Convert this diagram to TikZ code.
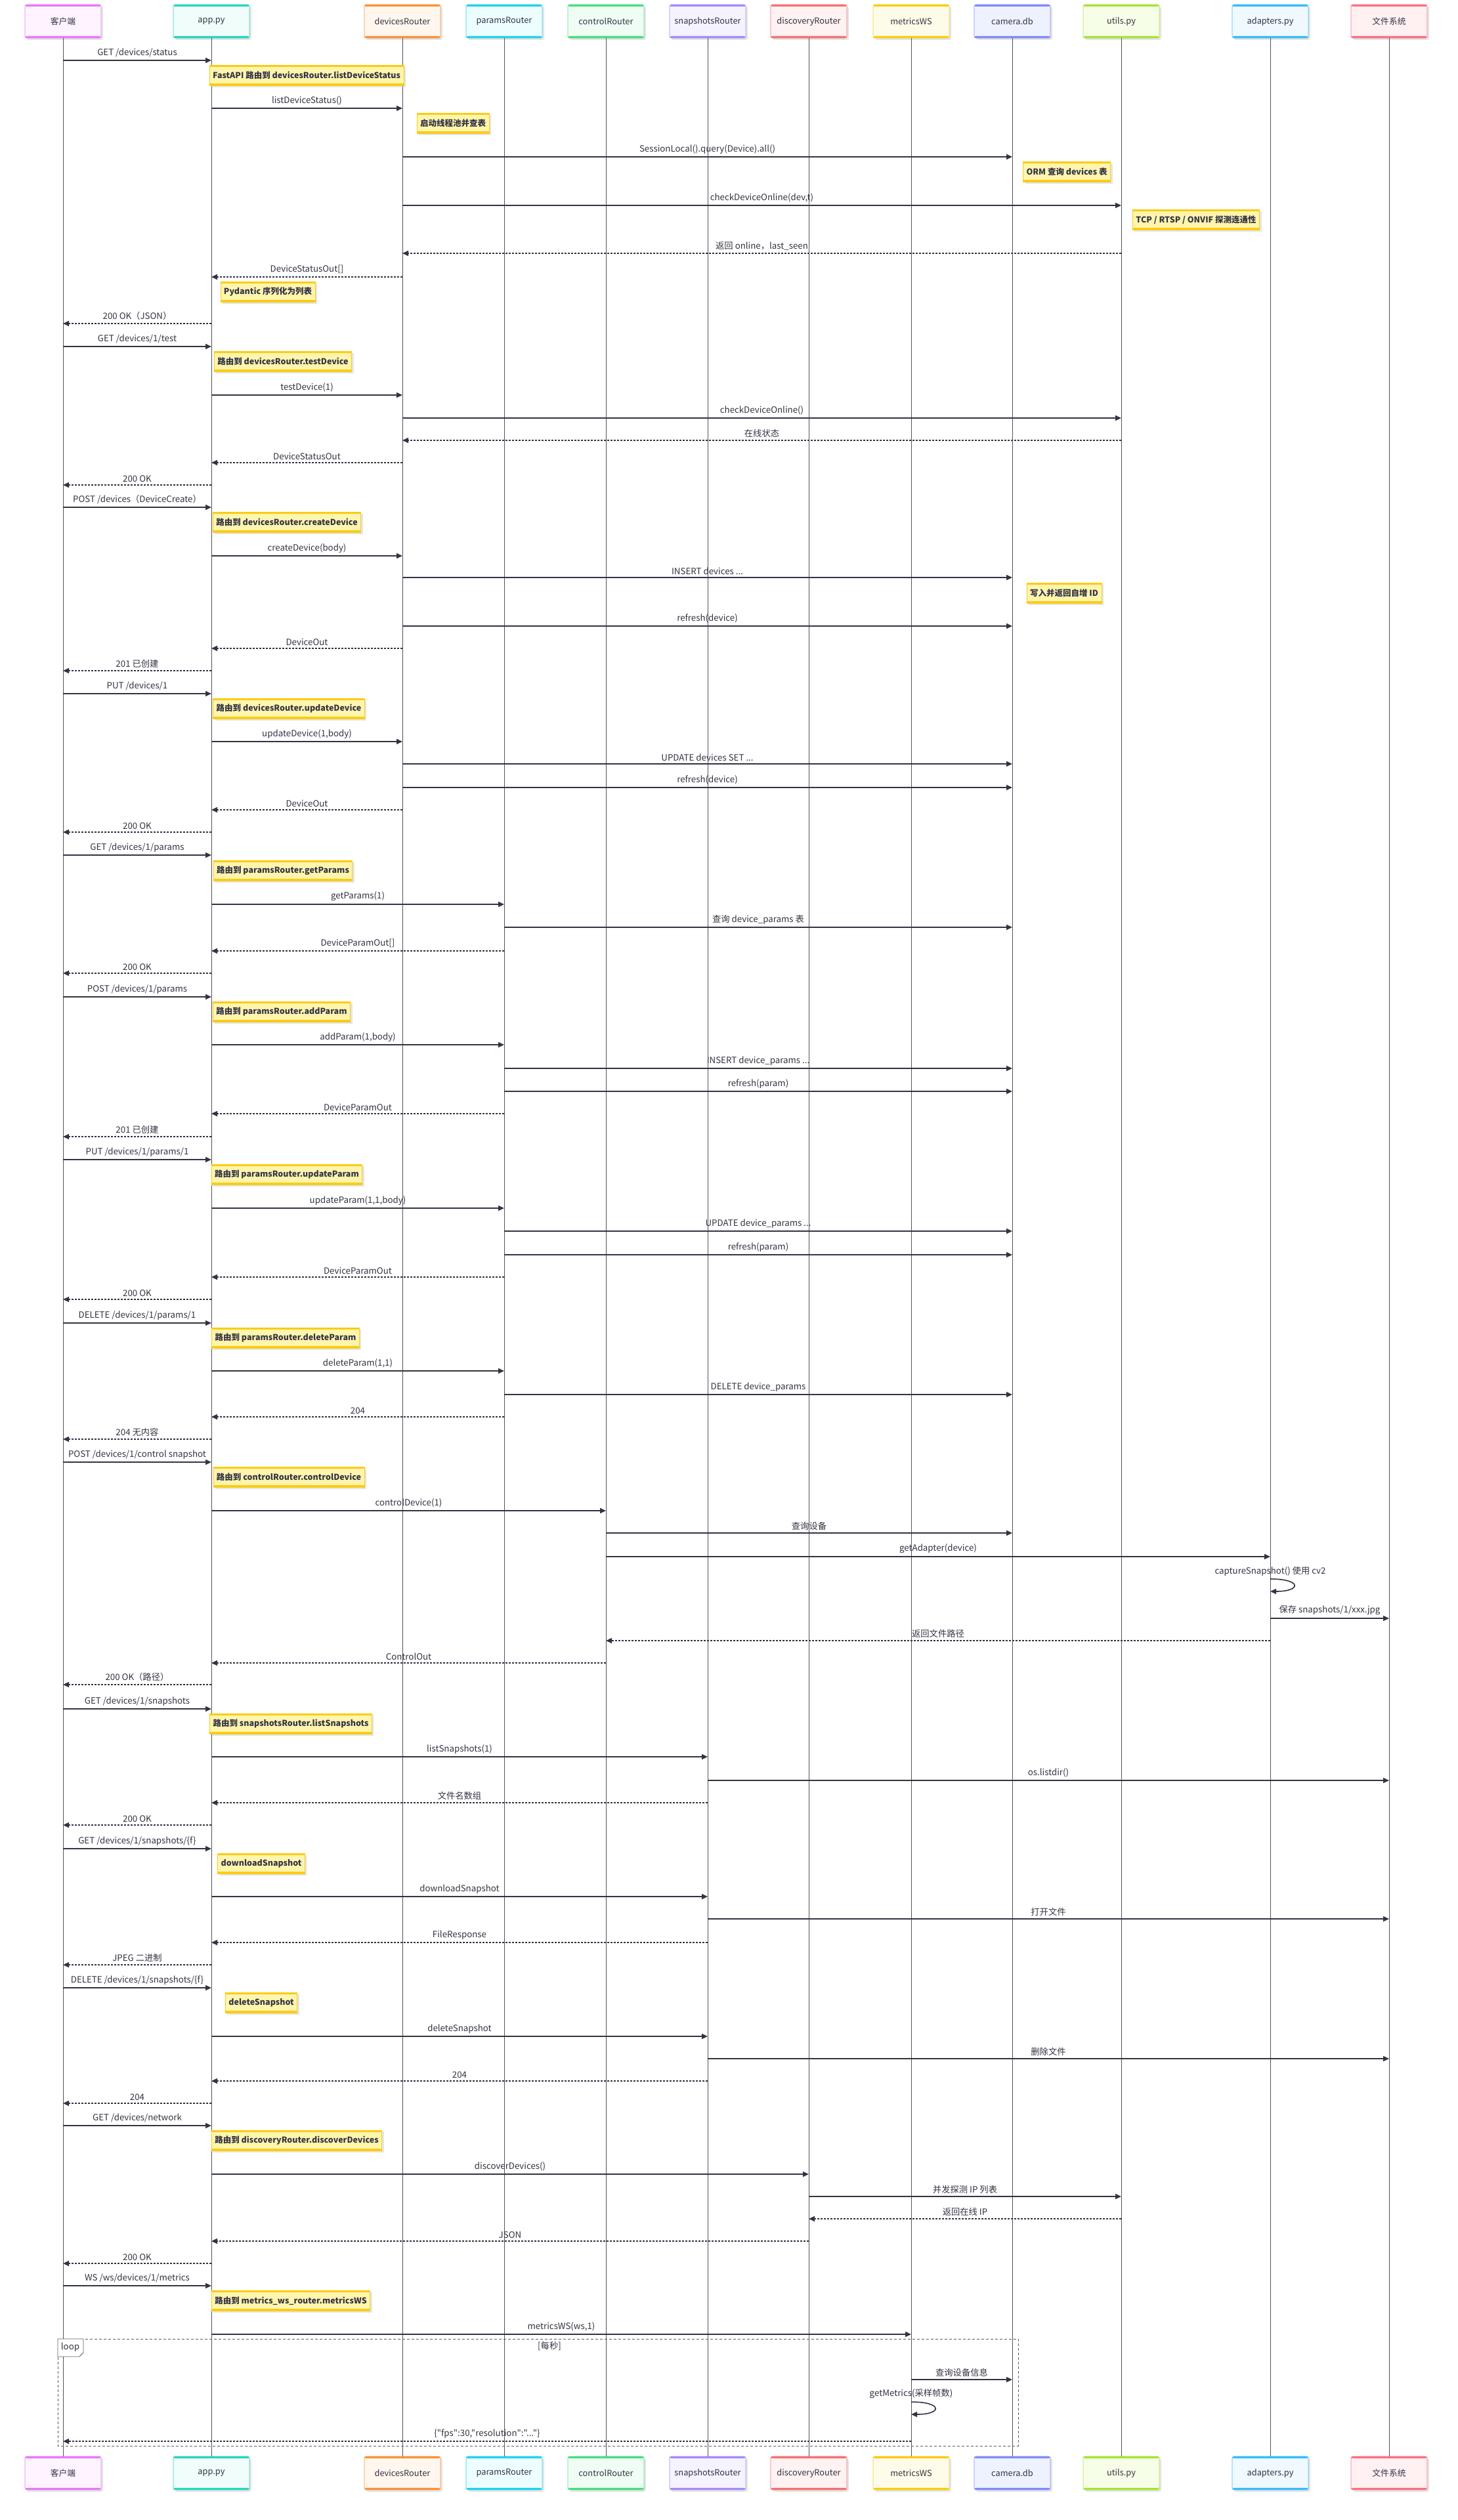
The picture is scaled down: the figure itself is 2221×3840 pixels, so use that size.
\documentclass[tikz,border=0pt]{standalone}
\usepackage{fontspec}
\setmainfont{Noto Sans CJK SC}[Ligatures=TeXOff]
\usetikzlibrary{arrows.meta, positioning, shadows}

\definecolor{ink}{HTML}{333344}
\definecolor{notefill}{HTML}{FFF5AD}
\definecolor{noteline}{HTML}{FACC15}
\definecolor{actline}{HTML}{999999}
\definecolor{actfill}{HTML}{FFFFFF}

\newcommand{\seqfont}{\fontsize{13.3}{16}\selectfont}
\newcommand{\notefont}{\fontsize{12.5}{15}\selectfont}

\tikzset{
  actor/.style={draw=actline, fill=actfill, rounded corners=3pt, line width=0.8pt,
    minimum width=116pt, minimum height=51pt, text=ink, font=\fontsize{12.8}{15}\selectfont,
    drop shadow={shadow xshift=3pt, shadow yshift=-3pt, fill=black!25, opacity=0.4},
    path picture={
      \fill[actline] (path picture bounding box.north west) rectangle ([yshift=-3pt]path picture bounding box.north east);
      \fill[actline] (path picture bounding box.south west) rectangle ([yshift=3pt]path picture bounding box.south east);}},
  life/.style={draw=ink!85, line width=0.9pt},
  msg/.style={draw=ink, line width=1.6pt, -{Triangle[length=9pt, width=8pt]}},
  ret/.style={msg, dash pattern=on 3pt off 2pt},
  lbl/.style={above=3pt, inner sep=1pt, text=ink, font=\seqfont},
  slbl/.style={inner sep=1pt, text=ink, font=\seqfont},
  note/.style={anchor=north, fill=notefill, draw=noteline, line width=0.8pt,
    minimum height=31pt, inner xsep=5pt, text=ink, font=\bfseries\notefont,
    drop shadow={shadow xshift=3pt, shadow yshift=-3pt, fill=black!25, opacity=0.4},
    path picture={
      \fill[noteline] (path picture bounding box.north west) rectangle ([yshift=-3pt]path picture bounding box.north east);
      \fill[noteline] (path picture bounding box.south west) rectangle ([yshift=3pt]path picture bounding box.south east);}},
  frame/.style={draw=ink!80, line width=1pt, dash pattern=on 4pt off 3pt},
}

\begin{document}
\begin{tikzpicture}[x=1pt, y=-1pt]
    \path[use as bounding box, fill=white] (0,0) rectangle (2221,3840);

    % participants, top and bottom, with lifelines
    \foreach \n/\x/\t/\bd/\bg in {cli/96/客户端/E879F9/FDF4FF, app/322/app.py/2DD4BF/F0FDFA,
        dev/613/devicesRouter/FB923C/FFF7ED, par/768/paramsRouter/22D3EE/ECFEFF,
        ctl/923/controlRouter/4ADE80/F0FDF4, snap/1078/snapshotsRouter/A78BFA/F5F3FF,
        disc/1232/discoveryRouter/F87171/FEF2F2, mws/1388/metricsWS/FACC15/FEFCE8,
        db/1542/camera.db/818CF8/EEF2FF, utl/1708/utils.py/A3E635/F7FEE7,
        adp/1935/adapters.py/38BDF8/F0F9FF, fs/2116/文件系统/FB7185/FFF1F2}{
        \definecolor{actline}{HTML}{\bd}
        \definecolor{actfill}{HTML}{\bg}
        \node[actor] (\n) at (\x,32.5) {\t};
        \node[actor] (\n-b) at (\x,3768.5) {\t};
        \draw[life] (\n.south) -- (\n-b.north);
    }

    % loop frame
    \draw[frame] (88,3564) rectangle (1551,3727);
    \draw[ink!80, fill=white, line width=0.8pt] (88,3564) -- (127,3564) -- (127,3585) -- (121,3591) -- (88,3591) -- cycle;
    \node[slbl] (looptag) at (107,3577) {loop};
    \node[slbl] (loopcond) at (837,3575) {[每秒]};

    % GET /devices/status
    \draw[msg] (cli |- 0,92) -- node[lbl]{GET /devices/status} (app |- 0,92);
    \node[note] (n1) at (467,99) {FastAPI 路由到 devicesRouter.listDeviceStatus};
    \draw[msg] (app |- 0,165) -- node[lbl]{listDeviceStatus()} (dev |- 0,165);
    \node[note] (n2) at (690,172) {启动线程池并查表};
    \draw[msg] (dev |- 0,239) -- node[lbl]{SessionLocal().query(Device).all()} (db |- 0,239);
    \node[note] (n3) at (1625,246) {ORM 查询 devices 表};
    \draw[msg] (dev |- 0,313) -- node[lbl]{checkDeviceOnline(dev,t)} (utl |- 0,313);
    \node[note] (n4) at (1822,319) {TCP / RTSP / ONVIF 探测连通性};
    \draw[ret] (utl |- 0,386) -- node[lbl]{返回 online，last\_seen} (dev |- 0,386);
    \draw[ret] (dev |- 0,422) -- node[lbl]{DeviceStatusOut[]} (app |- 0,422);
    \node[note] (n5) at (408,429) {Pydantic 序列化为列表};
    \draw[ret] (app |- 0,493) -- node[lbl]{200 OK（JSON）} (cli |- 0,493);

    % GET /devices/1/test
    \draw[msg] (cli |- 0,528) -- node[lbl]{GET /devices/1/test} (app |- 0,528);
    \node[note] (n6) at (431,535) {路由到 devicesRouter.testDevice};
    \draw[msg] (app |- 0,602) -- node[lbl]{testDevice(1)} (dev |- 0,602);
    \draw[msg] (dev |- 0,637) -- node[lbl]{checkDeviceOnline()} (utl |- 0,637);
    \draw[ret] (utl |- 0,671) -- node[lbl]{在线状态} (dev |- 0,671);
    \draw[ret] (dev |- 0,705) -- node[lbl]{DeviceStatusOut} (app |- 0,705);
    \draw[ret] (app |- 0,739) -- node[lbl]{200 OK} (cli |- 0,739);

    % POST /devices
    \draw[msg] (cli |- 0,773) -- node[lbl]{POST /devices（DeviceCreate）} (app |- 0,773);
    \node[note] (n7) at (437,780) {路由到 devicesRouter.createDevice};
    \draw[msg] (app |- 0,847) -- node[lbl]{createDevice(body)} (dev |- 0,847);
    \draw[msg] (dev |- 0,880) -- node[lbl]{INSERT devices ...} (db |- 0,880);
    \node[note] (n8) at (1621,888) {写入并返回自增 ID};
    \draw[msg] (dev |- 0,954) -- node[lbl]{refresh(device)} (db |- 0,954);
    \draw[ret] (dev |- 0,988) -- node[lbl]{DeviceOut} (app |- 0,988);
    \draw[ret] (app |- 0,1022) -- node[lbl]{201 已创建} (cli |- 0,1022);

    % PUT /devices/1
    \draw[msg] (cli |- 0,1057) -- node[lbl]{PUT /devices/1} (app |- 0,1057);
    \node[note] (n9) at (440,1064) {路由到 devicesRouter.updateDevice};
    \draw[msg] (app |- 0,1130) -- node[lbl]{updateDevice(1,body)} (dev |- 0,1130);
    \draw[msg] (dev |- 0,1164) -- node[lbl]{UPDATE devices SET ...} (db |- 0,1164);
    \draw[msg] (dev |- 0,1200) -- node[lbl]{refresh(device)} (db |- 0,1200);
    \draw[ret] (dev |- 0,1234) -- node[lbl]{DeviceOut} (app |- 0,1234);
    \draw[ret] (app |- 0,1268) -- node[lbl]{200 OK} (cli |- 0,1268);

    % GET /devices/1/params
    \draw[msg] (cli |- 0,1303) -- node[lbl]{GET /devices/1/params} (app |- 0,1303);
    \node[note] (n10) at (431,1311) {路由到 paramsRouter.getParams};
    \draw[msg] (app |- 0,1378) -- node[lbl]{getParams(1)} (par |- 0,1378);
    \draw[msg] (par |- 0,1413) -- node[lbl]{查询 device\_params 表} (db |- 0,1413);
    \draw[ret] (par |- 0,1449) -- node[lbl]{DeviceParamOut[]} (app |- 0,1449);
    \draw[ret] (app |- 0,1483) -- node[lbl]{200 OK} (cli |- 0,1483);

    % POST /devices/1/params
    \draw[msg] (cli |- 0,1519) -- node[lbl]{POST /devices/1/params} (app |- 0,1519);
    \node[note] (n11) at (429,1526) {路由到 paramsRouter.addParam};
    \draw[msg] (app |- 0,1592) -- node[lbl]{addParam(1,body)} (par |- 0,1592);
    \draw[msg] (par |- 0,1628) -- node[lbl]{INSERT device\_params ...} (db |- 0,1628);
    \draw[msg] (par |- 0,1663) -- node[lbl]{refresh(param)} (db |- 0,1663);
    \draw[ret] (par |- 0,1697) -- node[lbl]{DeviceParamOut} (app |- 0,1697);
    \draw[ret] (app |- 0,1732) -- node[lbl]{201 已创建} (cli |- 0,1732);

    % PUT /devices/1/params/1
    \draw[msg] (cli |- 0,1767) -- node[lbl]{PUT /devices/1/params/1} (app |- 0,1767);
    \node[note] (n12) at (437,1774) {路由到 paramsRouter.updateParam};
    \draw[msg] (app |- 0,1841) -- node[lbl]{updateParam(1,1,body)} (par |- 0,1841);
    \draw[msg] (par |- 0,1876) -- node[lbl]{UPDATE device\_params ...} (db |- 0,1876);
    \draw[msg] (par |- 0,1912) -- node[lbl]{refresh(param)} (db |- 0,1912);
    \draw[ret] (par |- 0,1946) -- node[lbl]{DeviceParamOut} (app |- 0,1946);
    \draw[ret] (app |- 0,1980) -- node[lbl]{200 OK} (cli |- 0,1980);

    % DELETE /devices/1/params/1
    \draw[msg] (cli |- 0,2016) -- node[lbl]{DELETE /devices/1/params/1} (app |- 0,2016);
    \node[note] (n13) at (435,2023) {路由到 paramsRouter.deleteParam};
    \draw[msg] (app |- 0,2089) -- node[lbl]{deleteParam(1,1)} (par |- 0,2089);
    \draw[msg] (par |- 0,2125) -- node[lbl]{DELETE device\_params} (db |- 0,2125);
    \draw[ret] (par |- 0,2159) -- node[lbl]{204} (app |- 0,2159);
    \draw[ret] (app |- 0,2193) -- node[lbl]{204 无内容} (cli |- 0,2193);

    % POST /devices/1/control snapshot
    \draw[msg] (cli |- 0,2228) -- node[lbl]{POST /devices/1/control snapshot} (app |- 0,2228);
    \node[note] (n14) at (440,2235) {路由到 controlRouter.controlDevice};
    \draw[msg] (app |- 0,2302) -- node[lbl]{controlDevice(1)} (ctl |- 0,2302);
    \draw[msg] (ctl |- 0,2336) -- node[lbl]{查询设备} (db |- 0,2336);
    \draw[msg] (ctl |- 0,2372) -- node[lbl]{getAdapter(device)} (adp |- 0,2372);
    \node[slbl] (cap) at (adp |- 0,2394) {captureSnapshot() 使用 cv2};
    \draw[msg] (adp |- 0,2406) .. controls +(48,0) and +(48,0) .. (adp |- 0,2425);
    \draw[msg] (adp |- 0,2466) -- node[lbl]{保存 snapshots/1/xxx.jpg} (fs |- 0,2466);
    \draw[ret] (adp |- 0,2500) -- node[lbl]{返回文件路径} (ctl |- 0,2500);
    \draw[ret] (ctl |- 0,2534) -- node[lbl]{ControlOut} (app |- 0,2534);
    \draw[ret] (app |- 0,2567) -- node[lbl]{200 OK（路径）} (cli |- 0,2567);

    % GET /devices/1/snapshots
    \draw[msg] (cli |- 0,2604) -- node[lbl]{GET /devices/1/snapshots} (app |- 0,2604);
    \node[note] (n15) at (443,2611) {路由到 snapshotsRouter.listSnapshots};
    \draw[msg] (app |- 0,2677) -- node[lbl]{listSnapshots(1)} (snap |- 0,2677);
    \draw[msg] (snap |- 0,2713) -- node[lbl]{os.listdir()} (fs |- 0,2713);
    \draw[ret] (snap |- 0,2747) -- node[lbl]{文件名数组} (app |- 0,2747);
    \draw[ret] (app |- 0,2781) -- node[lbl]{200 OK} (cli |- 0,2781);

    % GET /devices/1/snapshots/{f}
    \draw[msg] (cli |- 0,2817) -- node[lbl]{GET /devices/1/snapshots/\{f\}} (app |- 0,2817);
    \node[note] (n16) at (398,2824) {downloadSnapshot};
    \draw[msg] (app |- 0,2890) -- node[lbl]{downloadSnapshot} (snap |- 0,2890);
    \draw[msg] (snap |- 0,2924) -- node[lbl]{打开文件} (fs |- 0,2924);
    \draw[ret] (snap |- 0,2960) -- node[lbl]{FileResponse} (app |- 0,2960);
    \draw[ret] (app |- 0,2994) -- node[lbl]{JPEG 二进制} (cli |- 0,2994);

    % DELETE /devices/1/snapshots/{f}
    \draw[msg] (cli |- 0,3029) -- node[lbl]{DELETE /devices/1/snapshots/\{f\}} (app |- 0,3029);
    \node[note] (n17) at (398,3036) {deleteSnapshot};
    \draw[msg] (app |- 0,3103) -- node[lbl]{deleteSnapshot} (snap |- 0,3103);
    \draw[msg] (snap |- 0,3137) -- node[lbl]{删除文件} (fs |- 0,3137);
    \draw[ret] (snap |- 0,3171) -- node[lbl]{204} (app |- 0,3171);
    \draw[ret] (app |- 0,3205) -- node[lbl]{204} (cli |- 0,3205);

    % GET /devices/network
    \draw[msg] (cli |- 0,3239) -- node[lbl]{GET /devices/network} (app |- 0,3239);
    \node[note] (n18) at (452,3246) {路由到 discoveryRouter.discoverDevices};
    \draw[msg] (app |- 0,3313) -- node[lbl]{discoverDevices()} (disc |- 0,3313);
    \draw[msg] (disc |- 0,3347) -- node[lbl]{并发探测 IP 列表} (utl |- 0,3347);
    \draw[ret] (utl |- 0,3381) -- node[lbl]{返回在线 IP} (disc |- 0,3381);
    \draw[ret] (disc |- 0,3415) -- node[lbl]{JSON} (app |- 0,3415);
    \draw[ret] (app |- 0,3449) -- node[lbl]{200 OK} (cli |- 0,3449);

    % WS /ws/devices/1/metrics
    \draw[msg] (cli |- 0,3483) -- node[lbl]{WS /ws/devices/1/metrics} (app |- 0,3483);
    \node[note] (n19) at (443,3490) {路由到 metrics\_ws\_router.metricsWS};
    \draw[msg] (app |- 0,3557) -- node[lbl]{metricsWS(ws,1)} (mws |- 0,3557);
    \draw[msg] (mws |- 0,3626) -- node[lbl]{查询设备信息} (db |- 0,3626);
    \node[slbl] (sample) at (mws |- 0,3648) {getMetrics(采样帧数)};
    \draw[msg] (mws |- 0,3660) .. controls +(48,0) and +(48,0) .. (mws |- 0,3679);
    \draw[ret] (mws |- 0,3720) -- node[lbl]{\{"fps":30,"resolution":"..."\}} (cli |- 0,3720);
    \end{tikzpicture}
\end{document}
